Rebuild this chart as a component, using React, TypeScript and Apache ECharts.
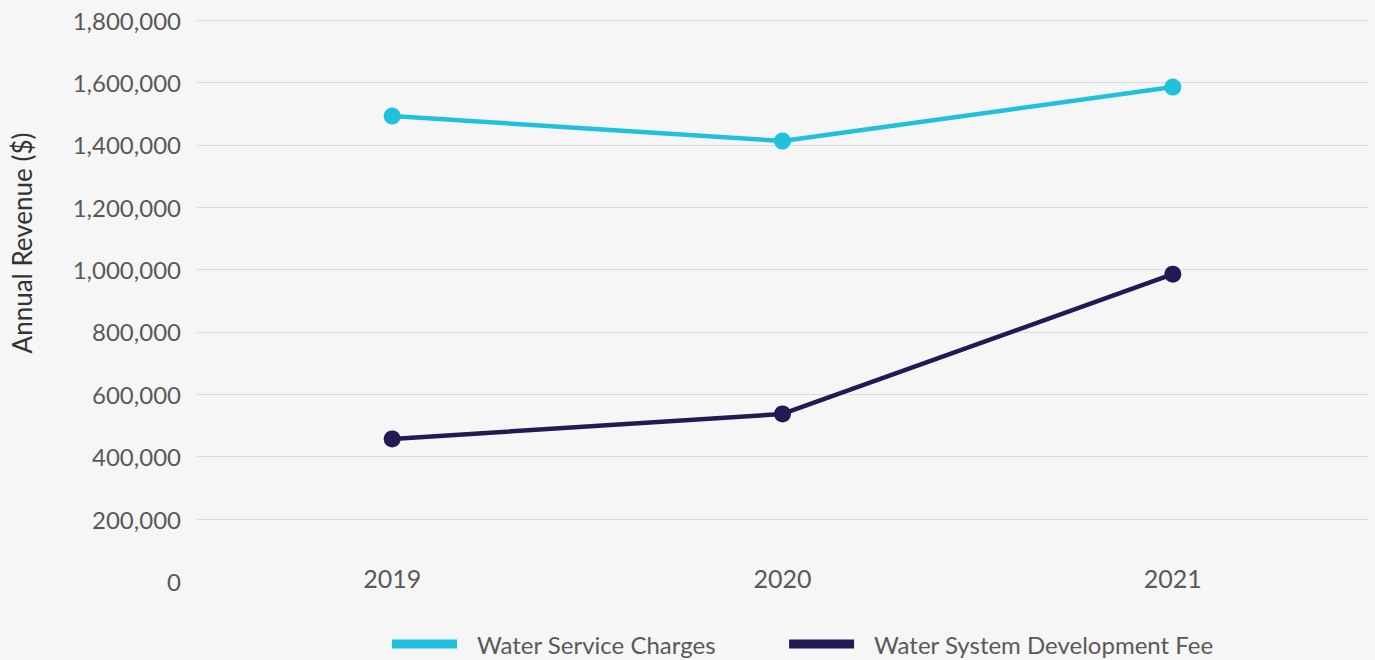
import React, { useEffect, useRef } from "react";
import * as echarts from "echarts";

const years = ["2019", "2020", "2021"];
const serviceCharges = [1492000, 1412000, 1585000];
const developmentFee = [457000, 537000, 985000];
const seriesNames = ["Water Service Charges", "Water System Development Fee"];
const yTicks = [0, 200000, 400000, 600000, 800000, 1000000, 1200000, 1400000, 1600000, 1800000];
const yAxisTitle = "Annual Revenue ($)";

const FONT = "Lato";

export default function App() {
  const ref = useRef<HTMLDivElement>(null);
  useEffect(() => {
    document.body.style.margin = "0";
    const chart = echarts.init(ref.current!, null, { renderer: "svg" });
    const gridColors = yTicks.map((v) => (v === 0 ? "rgba(0,0,0,0)" : "#dcdcdc"));
    chart.setOption({
      animation: false,
      backgroundColor: "#f6f6f6",
      textStyle: { fontFamily: FONT },
      grid: { left: 197, right: 7, top: 20, bottom: 78.5, containLabel: false },
      graphic: [
        {
          type: "text",
          x: 22,
          y: 243,
          rotation: Math.PI / 2,
          style: {
            text: yAxisTitle,
            fontSize: 26,
            fontFamily: FONT,
            fill: "#333333",
            align: "center",
            verticalAlign: "middle",
          },
        },
      ],
      legend: {
        left: 392,
        top: 632,
        icon: "rect",
        itemWidth: 65,
        itemHeight: 9,
        itemGap: 73,
        padding: 0,
        data: seriesNames,
        textStyle: { fontSize: 24, color: "#595959", fontFamily: FONT, padding: [0, 0, 0, 15] },
      },
      xAxis: {
        type: "category",
        data: years,
        boundaryGap: true,
        axisLine: { show: false },
        axisTick: { show: false },
        axisLabel: { fontSize: 25, color: "#595959", margin: -16, fontFamily: FONT },
      },
      yAxis: {
        type: "value",
        min: 0,
        max: 1800000,
        interval: 200000,
        axisLine: { show: false },
        axisTick: { show: false },
        axisLabel: {
          fontSize: 24,
          color: "#595959",
          margin: 16,
          fontFamily: FONT,
          formatter: (v: number) => v.toLocaleString("en-US"),
        },
        splitLine: { show: true, lineStyle: { color: gridColors, width: 1 } },
      },
      series: [
        {
          name: seriesNames[0],
          type: "line",
          data: serviceCharges,
          symbol: "circle",
          symbolSize: 17,
          color: "#1fc1dc",
          lineStyle: { width: 4.5, color: "#1fc1dc" },
          itemStyle: { color: "#1fc1dc" },
        },
        {
          name: seriesNames[1],
          type: "line",
          data: developmentFee,
          symbol: "circle",
          symbolSize: 17,
          color: "#211a55",
          lineStyle: { width: 4.5, color: "#211a55" },
          itemStyle: { color: "#211a55" },
        },
      ],
    });
    return () => chart.dispose();
  }, []);
  return <div ref={ref} style={{ width: 1375, height: 660 }} />;
}
